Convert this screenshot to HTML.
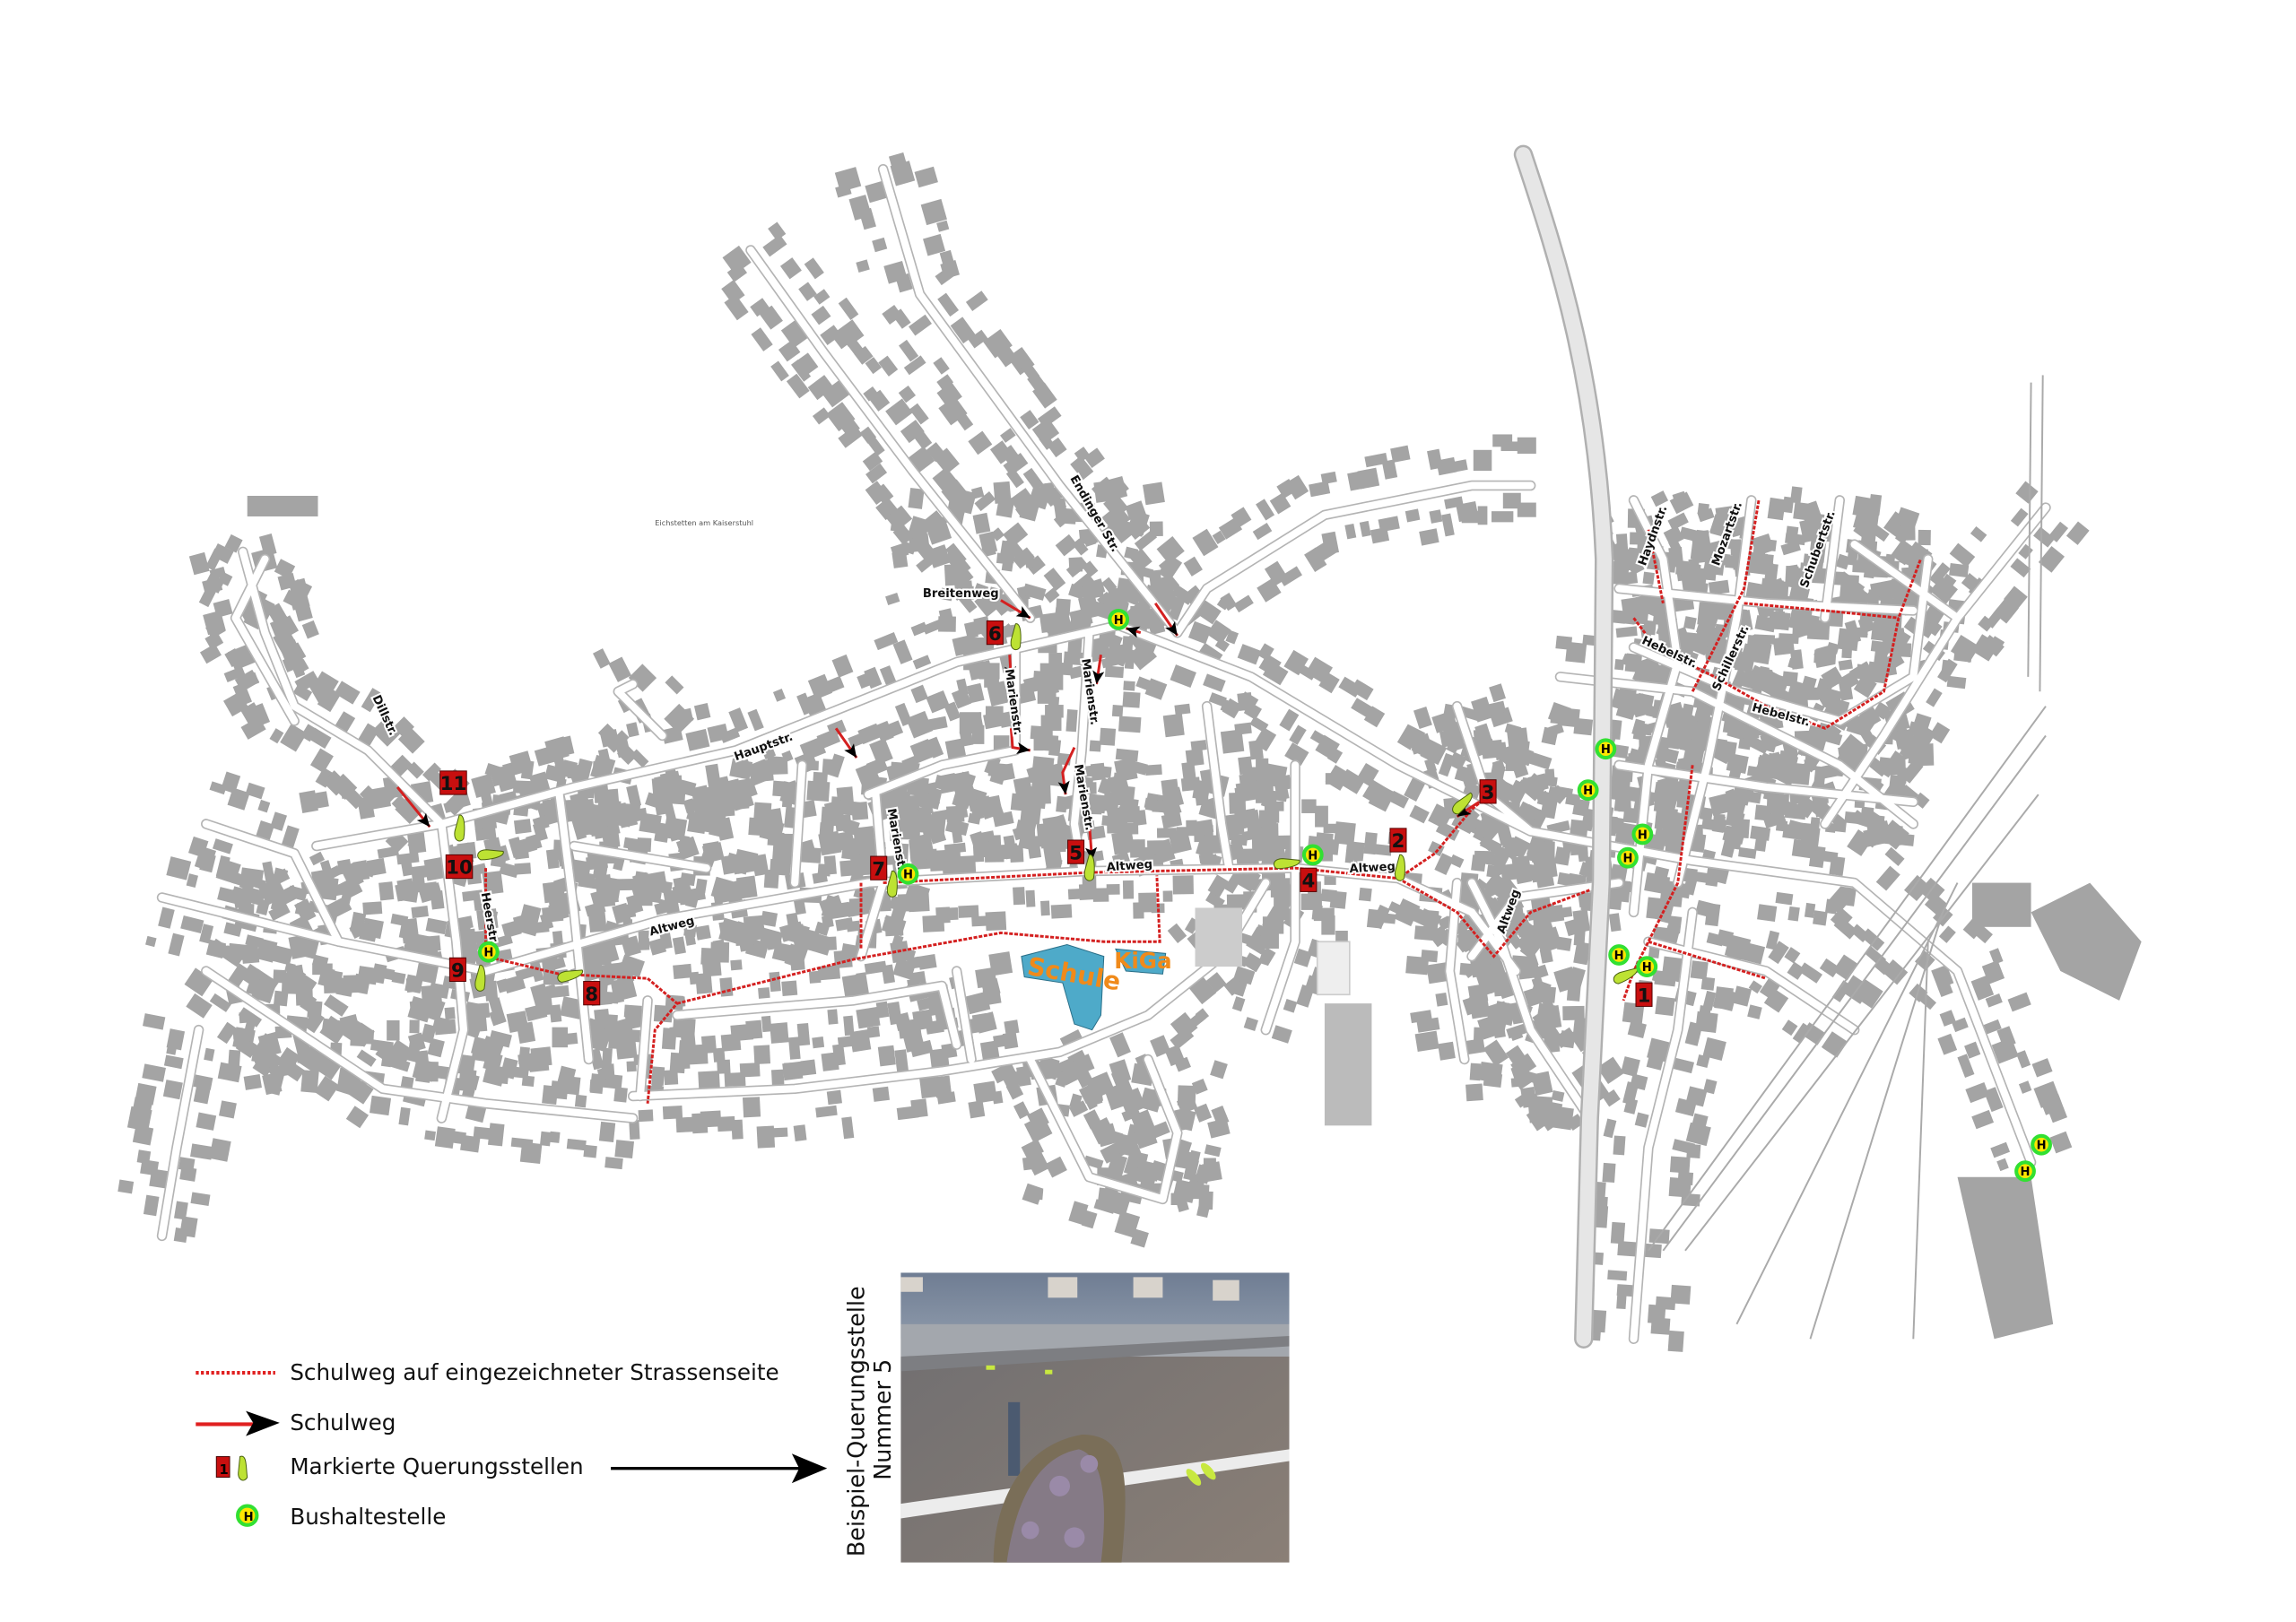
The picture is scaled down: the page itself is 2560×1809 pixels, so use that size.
<!DOCTYPE html>
<html><head><meta charset="utf-8"><style>
html,body{margin:0;padding:0;background:#fff;}
svg{display:block;}
text{font-family:"DejaVu Sans","Liberation Sans",sans-serif;}
</style></head><body>
<svg id="m" xmlns="http://www.w3.org/2000/svg" width="2560" height="1809" viewBox="0 0 1560 1102.4">
<rect width="1560" height="1103" fill="#fff"/>
<g id="bld" fill="#a4a4a4"></g>
<g id="roads" fill="none" stroke-linejoin="round" stroke-linecap="round"></g>
<path d="M1035,105 C1060,180 1085,260 1090,380 L1088,600 L1080,760 L1076,910" stroke="#b0b0b0" stroke-width="13" fill="none" stroke-linecap="round"/>
<path d="M1035,105 C1060,180 1085,260 1090,380 L1088,600 L1080,760 L1076,910" stroke="#e6e6e6" stroke-width="10" fill="none" stroke-linecap="round"/>
<g stroke="#aaa" stroke-width="1.2" fill="none">
<path d="M1120,850 L1390,480"/><path d="M1130,850 L1390,500"/><path d="M1145,850 L1385,540"/>
<path d="M1180,900 L1330,600"/><path d="M1230,910 L1320,620"/><path d="M1300,910 L1310,640"/>
<path d="M1380,260 L1378,460"/><path d="M1388,255 L1386,470"/>
</g>
<rect x="900" y="682" width="32" height="83" fill="#bbb"/>
<rect x="812" y="617" width="32" height="40" fill="#ccc"/>
<rect x="895" y="640" width="22" height="36" fill="#eee" stroke="#ccc"/>
<rect x="1340" y="600" width="40" height="30" fill="#a4a4a4"/>
<path d="M1380,620 L1420,600 L1455,640 L1440,680 L1400,660 Z" fill="#a4a4a4"/>
<path d="M1330,800 L1380,800 L1395,900 L1355,910 Z" fill="#a4a4a4"/>
<rect x="168" y="337" width="48" height="14" fill="#a4a4a4"/>
<path d="M694,650 L725,642 L750,650 L748,690 L742,700 L730,696 L722,668 L696,664 Z" fill="#4eaac9" stroke="#2a6f88" stroke-width="0.6"/>
<path d="M758,645 L792,648 L790,662 L765,660 Z" fill="#4eaac9" stroke="#2a6f88" stroke-width="0.6"/>
<text x="698" y="666" font-size="17" font-weight="bold" fill="#f08a1a" transform="rotate(10 720 660)">Schule</text>
<text x="757" y="658" font-size="15" font-weight="bold" fill="#f08a1a">KiGa</text>
<g id="red" fill="none" stroke="#d42020" stroke-width="1.8"></g>
<g id="lbl" font-weight="bold" fill="#111"></g>
<g id="mk"></g>
<line x1="133" y1="933" x2="187" y2="933" stroke="#e02020" stroke-width="2.5" stroke-dasharray="2,1.5"/>
<text x="197" y="938" font-size="15" fill="#111">Schulweg auf eingezeichneter Strassenseite</text>
<line x1="133" y1="968" x2="172" y2="968" stroke="#e02020" stroke-width="2.5"/>
<path d="M167,959 L190,967 L167,976 L172,967 Z" fill="#000"/>
<text x="197" y="972" font-size="15" fill="#111">Schulweg</text>
<rect x="147" y="990" width="9" height="14" fill="#c80f0f" stroke="#400" stroke-width="0.6"/>
<text x="149" y="1002" font-size="9" fill="#000" font-weight="bold">1</text>
<path d="M163,990 C168,988 167,998 168,1004 C166,1008 161,1006 162,1000 Z" fill="#bde233" stroke="#4a6010" stroke-width="0.6"/>
<text x="197" y="1002" font-size="15" fill="#111">Markierte Querungsstellen</text>
<line x1="415" y1="998" x2="545" y2="998" stroke="#000" stroke-width="2"/>
<path d="M538,988 L562,998 L538,1008 L543,998 Z" fill="#000"/>
<circle cx="168" cy="1030" r="6.5" fill="#ffe600" stroke="#32e032" stroke-width="2.5"/>
<text x="165.5" y="1033.5" font-size="8" font-weight="bold" fill="#000">H</text>
<text x="197" y="1036" font-size="15" fill="#111">Bushaltestelle</text>
<text transform="translate(587,1058) rotate(-90)" font-size="15.5" fill="#111">Beispiel-Querungsstelle</text>
<text transform="translate(605,1006) rotate(-90)" font-size="15.5" fill="#111">Nummer 5</text>
<defs>
<linearGradient id="wall" x1="0" y1="0" x2="0" y2="1"><stop offset="0" stop-color="#6f7d93"/><stop offset="1" stop-color="#8d99aa"/></linearGradient>
<linearGradient id="road" x1="0" y1="0" x2="1" y2="1"><stop offset="0" stop-color="#6e6d70"/><stop offset="1" stop-color="#8a7f76"/></linearGradient>
<clipPath id="pc"><rect x="612" y="865" width="264" height="197"/></clipPath>
</defs>
<g clip-path="url(#pc)">
<rect x="612" y="865" width="264" height="197" fill="url(#road)"/>
<rect x="612" y="865" width="264" height="45" fill="url(#wall)"/>
<rect x="612" y="900" width="264" height="22" fill="#a3a7ad"/>
<path d="M612,922 L876,908 L876,915 L612,932 Z" fill="#7d7e82"/>
<g fill="#d8d3cc"><rect x="612" y="868" width="15" height="10"/><rect x="712" y="868" width="20" height="14"/><rect x="770" y="868" width="20" height="14"/><rect x="824" y="870" width="18" height="14"/></g>
<path d="M612,1022 L876,985 L876,993 L612,1032 Z" fill="#ececec"/>
<rect x="685" y="953" width="8" height="50" fill="#4b5a70"/>
<path d="M675,1062 C675,1020 695,982 735,975 C765,975 768,1000 762,1062 Z" fill="#7a6e58"/>
<path d="M684,1062 C690,1020 705,990 733,985 C752,990 752,1030 748,1062 Z" fill="#857a86"/>
<g fill="#9a8aa8"><circle cx="700" cy="1040" r="6"/><circle cx="720" cy="1010" r="7"/><circle cx="740" cy="995" r="6"/><circle cx="730" cy="1045" r="7"/></g>
<g fill="#c8e840"><ellipse cx="811" cy="1004" rx="3" ry="7" transform="rotate(-40 811 1004)"/><ellipse cx="821" cy="1000" rx="3" ry="7" transform="rotate(-40 821 1000)"/>
<rect x="670" y="928" width="6" height="3"/><rect x="710" y="931" width="5" height="3"/></g>
</g>
<script><![CDATA[
(function(){
var NS="http://www.w3.org/2000/svg";
function el(p,t,a){var e=document.createElementNS(NS,t);for(var k in a)e.setAttribute(k,a[k]);p.appendChild(e);return e;}
var seed=12345;function r(){seed=(seed*16807)%2147483647;return (seed-1)/2147483646;}
var R=[
[[110,610],[230,640],[330,660],[450,625],[590,600],[740,592],[880,590],[950,597],[1000,620],[1030,660]],
[[215,575],[300,560],[390,535],[500,510],[650,450],[760,425],[850,460],[950,520],[1040,565],[1150,585],[1260,600],[1330,660],[1380,790]],
[[510,170],[560,240],[620,320],[700,420]],
[[600,115],[625,200],[720,330],[800,430]],
[[165,375],[180,430],[200,480],[250,510],[300,560]],
[[300,560],[310,640],[315,700],[300,760]],
[[140,660],[200,700],[260,740],[330,750],[430,760]],
[[440,680],[435,745]],
[[430,745],[540,740],[640,728],[720,715],[780,690],[830,650],[860,600]],
[[460,690],[580,680],[640,670],[650,710]],
[[650,660],[660,720]],
[[700,720],[720,760],[740,800],[790,815],[800,770],[780,720]],
[[595,540],[600,600],[585,650]],
[[545,520],[540,600]],
[[690,440],[690,510],[640,520],[590,540]],
[[740,430],[735,510],[730,560],[735,590]],
[[820,480],[830,560],[835,590]],
[[880,520],[880,590],[880,640],[860,700]],
[[450,500],[420,470],[430,465]],
[[990,480],[1010,540],[1040,565]],
[[1000,600],[1020,640],[1040,700],[1080,760]],
[[1000,650],[1030,610],[1100,600]],
[[1110,340],[1130,380],[1140,450],[1120,520],[1110,620]],
[[1100,400],[1200,410],[1300,415]],
[[1110,440],[1180,470],[1250,490],[1300,460],[1310,380]],
[[1190,340],[1180,420],[1160,520],[1140,600]],
[[1250,340],[1240,420]],
[[1060,460],[1150,470],[1250,520],[1300,560]],
[[1100,520],[1200,535],[1300,545]],
[[1120,640],[1200,660],[1260,700]],
[[1390,345],[1330,420],[1280,500],[1240,560]],
[[1330,420],[1260,370]],
[[1150,620],[1140,700],[1120,780],[1110,910]],
[[140,560],[200,580],[230,640]],
[[380,540],[390,620],[400,720]],
[[180,380],[160,420],[200,490]],
[[135,700],[120,780],[110,840]],
[[390,575],[480,590]],
[[990,600],[985,660],[995,720]],
[[800,430],[820,400],[900,350],[1000,330],[1040,330]]
];
var bg=document.getElementById('bld'),rg=document.getElementById('roads');
function d(p){return 'M'+p.map(function(q){return q[0]+','+q[1];}).join(' L');}
function ok(x,y){if(x>560&&x<880&&y>860)return false;if(x>120&&x<560&&y>900)return false;if(x>690&&x<800&&y>638&&y<705)return false;return true;}
R.forEach(function(p){
 for(var i=0;i<p.length-1;i++){var a=p[i],b=p[i+1],dx=b[0]-a[0],dy=b[1]-a[1],L=Math.hypot(dx,dy),nx=-dy/L,ny=dx/L;
  for(var s=0;s<L;s+=6+r()*5){for(var side=-1;side<=1;side+=2){if(r()<0.12)continue;
   var off=side*(8+r()*24),x=a[0]+dx*s/L+nx*off,y=a[1]+dy*s/L+ny*off,w=6+r()*9,h=6+r()*9;
   if(!ok(x,y))continue;
   el(bg,'rect',{x:x-w/2,y:y-h/2,width:w,height:h,transform:'rotate('+((Math.atan2(dy,dx)*57.3).toFixed(0))+' '+x.toFixed(1)+' '+y.toFixed(1)+')'});}}}
});
// dense area fills
var A=[[330,520,880,590,260],[600,330,790,430,90],[150,590,440,740,140],[1100,340,1310,570,200],[1000,560,1080,760,80],[700,720,830,820,50],[980,480,1060,560,40],[450,600,590,650,40]];
A.forEach(function(z){for(var i=0;i<z[4];i++){var x=z[0]+r()*(z[2]-z[0]),y=z[1]+r()*(z[3]-z[1]),w=6+r()*9,h=6+r()*9;if(!ok(x,y))continue;
 el(bg,'rect',{x:x-w/2,y:y-h/2,width:w,height:h,transform:'rotate('+(r()*40-20).toFixed(0)+' '+x.toFixed(1)+' '+y.toFixed(1)+')'});}});
R.forEach(function(p){el(rg,'path',{d:d(p),stroke:'#b4b4b4','stroke-width':7});});
R.forEach(function(p){el(rg,'path',{d:d(p),stroke:'#fff','stroke-width':5});});
var red=document.getElementById('red');
var RR=[
[[330,590],[330,650],[380,662],[440,665],[460,682],[445,700],[440,750]],
[[460,682],[580,652],[680,634],[750,640],[788,640],[786,595]],
[[585,600],[585,645]],
[[600,600],[740,593],[880,590],[950,597],[975,580],[1000,550],[1012,540]],
[[950,597],[990,620],[1015,650],[1040,620],[1080,605]],
[[1150,520],[1140,600],[1110,660],[1103,680]],
[[1120,640],[1200,665]],
[[1110,420],[1125,440],[1165,460],[1200,480],[1240,495],[1280,470],[1290,420],[1305,380]],
[[1150,470],[1185,400],[1195,340]],
[[1120,360],[1130,410]],
[[1185,410],[1240,415],[1290,420]]
];
RR.forEach(function(p){el(red,'path',{d:d(p),'stroke-dasharray':'2.5,1'});});
var arr=[[[270,535],[292,562]],[[568,495],[582,515]],[[680,408],[700,420]],[[785,410],[800,432]],[[775,430],[765,427]],[[748,445],[745,465]],[[686,445],[687,462]],[[687,495],[688,508],[700,510]],[[730,508],[722,525],[724,540]],[[740,558],[742,585]],[[1005,545],[990,555]]];
arr.forEach(function(p){el(red,'path',{d:d(p),'stroke-width':1.8,stroke:'#d42020'});var a=p[p.length-2],b=p[p.length-1],an=Math.atan2(b[1]-a[1],b[0]-a[0])*57.3;
 el(red,'path',{d:'M0,0 L-9,-4 L-7,0 L-9,4 Z',fill:'#000',stroke:'none',transform:'translate('+b[0]+','+b[1]+') rotate('+an+')'});});
var lg=document.getElementById('lbl');
var L=[["Hauptstr.",500,517,-20,8],["Altweg",442,636,-15,8],["Altweg",752,592,-4,8],["Altweg",917,593,-3,8],["Heerstr.",327,607,80,8],["Marienstr.",603,550,80,8],["Marienstr.",683,455,82,8],["Marienstr.",735,448,82,8],["Marienstr.",730,520,80,8],["Endinger Str.",727,325,60,8],["Breitenweg",627,406,0,8],["Dillstr.",253,474,65,8],["Haydnstr.",1118,385,-70,8],["Mozartstr.",1168,385,-70,8],["Schubertstr.",1228,400,-70,8],["Hebelstr.",1115,437,25,8],["Schillerstr.",1168,470,-65,8],["Hebelstr.",1190,483,15,8],["Altweg",1022,635,-70,8]];
L.forEach(function(t){var e=el(lg,'text',{x:t[1],y:t[2],'font-size':t[4],transform:'rotate('+t[3]+' '+t[1]+' '+t[2]+')',stroke:'#fff','stroke-width':2.5,'paint-order':'stroke'});e.textContent=t[0];});
var tl=el(lg,'text',{x:445,y:357,'font-size':5,'font-weight':'normal',fill:'#555'});tl.textContent="Eichstetten am Kaiserstuhl";
var mk=document.getElementById('mk');
var M=[["11",308,532],["10",312,589],["9",311,659],["8",402,675],["7",597,590],["5",731,579],["6",676,430],["4",889,598],["2",950,571],["3",1011,538],["1",1117,676]];
M.forEach(function(m){var w=m[0].length>1?18:11;el(mk,'rect',{x:m[1]-w/2,y:m[2]-8,width:w,height:16,fill:'#c80f0f',stroke:'#500',"stroke-width":0.6});
 el(mk,'text',{x:m[1],y:m[2]+5,'font-size':13,'font-weight':'bold','text-anchor':'middle',fill:'#111'}).textContent=m[0];});
var F=[[312,562,0],[334,580,80],[326,664,0],[388,662,70],[606,600,0],[740,589,0],[690,432,0],[875,586,80],[951,589,0],[994,545,40],[1105,662,60]];
F.forEach(function(f){el(mk,'path',{d:'M0,-8 C4,-9 4,2 3,8 C1,11 -4,10 -3,3 Z',fill:'#bde233',stroke:'#4a6010','stroke-width':0.6,transform:'translate('+f[0]+','+f[1]+') rotate('+f[2]+')'});});
var H=[[760,421],[332,647],[617,594],[892,581],[1091,509],[1079,537],[1116,567],[1106,583],[1100,649],[1119,657],[1387,778],[1376,796]];
H.forEach(function(h){el(mk,'circle',{cx:h[0],cy:h[1],r:6,fill:'#ffe600',stroke:'#32e032','stroke-width':2.5});
 el(mk,'text',{x:h[0],y:h[1]+3,'font-size':8,'font-weight':'bold','text-anchor':'middle',fill:'#000'}).textContent='H';});
})();
]]></script>
</svg>
</body></html>
